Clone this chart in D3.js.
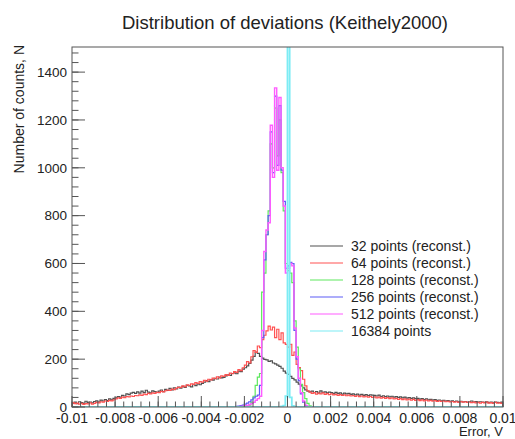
<!DOCTYPE html>
<html>
<head>
<meta charset="utf-8">
<script src="https://cdn.jsdelivr.net/npm/d3@7"></script>
<style>
  body { margin: 0; background: #fff; }
  svg { display: block; font-family: "Liberation Sans", Arial, Helvetica, sans-serif; }
</style>
</head>
<body>
<div id="grafica"></div>
<script>
// histogram binning: 200 bins of 0.0001 V from -0.01 to 0.01
var xMin = -0.01, xMax = 0.01, binWidth = 0.0001, nBins = 200;
var yMax = 1505;

var xTicks = [-0.01, -0.008, -0.006, -0.004, -0.002, 0, 0.002, 0.004, 0.006, 0.008, 0.01];
var xTickLabels = ["-0.01", "-0.008", "-0.006", "-0.004", "-0.002", "0", "0.002", "0.004", "0.006", "0.008", "0.01"];
var yTicks = [0, 200, 400, 600, 800, 1000, 1200, 1400];

var seriesNames = ["32 points (reconst.)", "64 points (reconst.)", "128 points (reconst.)",
                   "256 points (reconst.)", "512 points (reconst.)", "16384 points"];

// 32 points, all 200 bins
var counts32 = [
  16,20,14,22,18,15,24,19,21,17,
  23,26,21,29,25,31,27,34,30,36,
  38,44,41,49,46,55,52,58,61,57,
  63,58,66,60,70,62,59,67,64,61,
  66,71,64,74,69,78,72,80,76,83,
  79,86,82,91,88,84,95,89,97,93,
  99,104,110,106,115,112,120,117,125,122,
  124,130,134,132,140,143,139,150,148,158,
  164,172,182,196,212,230,224,212,204,199,
  197,191,193,184,180,175,170,162,150,142,
  136,128,120,113,104,96,88,80,72,66,
  63,66,60,64,58,67,61,63,59,62,
  60,56,61,57,59,54,58,55,57,53,
  55,51,54,50,53,49,52,48,51,50,
  49,46,50,44,47,43,46,42,45,41,
  43,40,42,38,41,37,39,36,38,35,
  36,33,35,31,34,30,32,29,31,28,
  29,26,28,25,27,24,26,23,25,22,
  24,21,23,20,22,25,21,23,20,22,
  21,19,22,18,20,17,21,19,18,20];

// 64 points, all 200 bins
var counts64 = [
  18,14,16,12,15,11,14,13,17,12,
  15,19,17,22,20,25,23,28,26,30,
  34,38,36,41,39,44,42,46,44,48,
  47,51,49,54,52,57,55,59,57,61,
  60,65,63,68,71,69,75,73,79,82,
  82,88,85,93,90,97,95,102,99,106,
  104,111,108,116,113,121,118,126,122,130,
  128,135,132,142,139,148,145,156,152,164,
  175,190,184,210,236,228,255,248,282,300,
  318,338,322,334,290,325,282,310,268,262,
  250,262,216,230,178,165,152,116,88,68,
  62,57,60,54,58,55,59,53,56,52,
  55,51,53,49,52,48,51,47,50,46,
  48,44,47,43,46,42,45,41,44,40,
  42,38,41,37,40,36,39,35,38,34,
  36,32,35,31,34,30,33,29,32,28,
  31,27,30,26,29,25,28,24,27,23,
  26,23,25,22,24,21,23,20,22,19,
  23,20,22,19,21,18,20,17,19,16,
  19,17,20,16,18,15,19,16,17,15];

// narrow ones: first non-empty bin + contents, all other bins are empty
var start128 = 82;
var counts128 = [8,20,45,90,125,140,480,560,720,820,1100,1000,1250,1050,1200,980,820,600,570,560,520,360,250,160,95,60,35,15,5];

var start256 = 76;
var counts256 = [3,4,6,8,12,16,22,30,38,45,50,90,290,615,720,800,1150,980,1300,1010,1260,990,860,580,590,605,600,320,200,110,55,20,6];

var start512 = 78;
var counts512 = [2,3,5,7,10,14,20,28,35,45,320,650,740,770,1178,960,1334,990,1294,1000,840,560,580,600,590,330,210,120,60,25,8,2];

var start16384 = 97;
var counts16384 = [2,6,45,16100,40,5,1];

// styles
var colors = ["#505050", "#ff5252", "#5ee85e", "#5c5cf5", "#ff5cff", "#7cecf4"];
var widths = [1.2, 1.2, 1.2, 1.2, 1.4, 1.8];

var W = 515, H = 439;
var margin = {top: 47, right: 12, bottom: 32, left: 72};
var w = W - margin.left - margin.right,
    h = H - margin.top - margin.bottom;

function fullBins(start, vals) {
  var b = [];
  for (var i = 0; i < nBins; i++) b.push(0);
  vals.forEach(function(v, k) { b[start + k] = v; });
  return b;
}

var series = [
  counts32, counts64,
  fullBins(start128, counts128),
  fullBins(start256, counts256),
  fullBins(start512, counts512),
  fullBins(start16384, counts16384)
];

var svg = d3.select("#grafica").append("svg")
    .attr("width", W)
    .attr("height", H);

var g = svg.append("g")
    .attr("transform", "translate(" + margin.left + "," + margin.top + ")");

var x = d3.scaleLinear().domain([xMin, xMax]).range([0, w]);
var y = d3.scaleLinear().domain([0, yMax]).range([h, 0]);

g.append("clipPath").attr("id", "frameclip")
  .append("rect").attr("x", 0).attr("y", 0).attr("width", w).attr("height", h);

// step outline like ROOT "HIST"
function steps(bins) {
  var pts = [[xMin, 0]];
  bins.forEach(function(v, i) {
    var lo = xMin + i * binWidth;
    pts.push([lo, v]);
    pts.push([lo + binWidth, v]);
  });
  pts.push([xMax, 0]);
  return pts;
}

var line = d3.line()
    .x(function(d) { return x(d[0]); })
    .y(function(d) { return y(d[1]); });

var plot = g.append("g").attr("clip-path", "url(#frameclip)");
series.forEach(function(bins, i) {
  plot.append("path")
      .datum(steps(bins))
      .attr("d", line)
      .attr("fill", "none")
      .attr("stroke", colors[i])
      .attr("stroke-width", widths[i]);
});

// frame
g.append("rect")
    .attr("width", w).attr("height", h)
    .attr("fill", "none")
    .attr("stroke", "#555")
    .attr("stroke-width", 1);

// x ticks (inside, pointing up), 5 subdivisions
var xMinor = d3.range(0, 51).map(function(k) { return xMin + k * 0.0004; });
g.selectAll(".xminor").data(xMinor).enter().append("line")
    .attr("x1", function(d) { return x(d); }).attr("x2", function(d) { return x(d); })
    .attr("y1", h).attr("y2", h - 5.5)
    .attr("stroke", "#555");
g.selectAll(".xmajor").data(xTicks).enter().append("line")
    .attr("x1", function(d) { return x(d); }).attr("x2", function(d) { return x(d); })
    .attr("y1", h).attr("y2", h - 11)
    .attr("stroke", "#555");
g.selectAll(".xlab").data(xTicks).enter().append("text")
    .attr("x", function(d) { return x(d); })
    .attr("y", h + 16)
    .attr("text-anchor", "middle")
    .style("font-size", "14px")
    .attr("fill", "#222")
    .text(function(d, i) { return xTickLabels[i]; });

// y ticks (inside, pointing right)
var yMinor = d3.range(0, 38).map(function(k) { return k * 40; });
g.selectAll(".yminor").data(yMinor).enter().append("line")
    .attr("x1", 0).attr("x2", 6.5)
    .attr("y1", function(d) { return y(d); }).attr("y2", function(d) { return y(d); })
    .attr("stroke", "#555");
g.selectAll(".ymajor").data(yTicks).enter().append("line")
    .attr("x1", 0).attr("x2", 13)
    .attr("y1", function(d) { return y(d); }).attr("y2", function(d) { return y(d); })
    .attr("stroke", "#555");
g.selectAll(".ylab").data(yTicks).enter().append("text")
    .attr("x", -5)
    .attr("y", function(d) { return y(d); })
    .attr("dy", "0.36em")
    .attr("text-anchor", "end")
    .style("font-size", "13.5px")
    .attr("fill", "#222")
    .text(function(d) { return d; });

// axis titles
svg.append("text")
    .attr("x", margin.left + w)
    .attr("y", 436)
    .attr("text-anchor", "end")
    .style("font-size", "13px")
    .attr("fill", "#222")
    .text("Error, V");

svg.append("text")
    .attr("transform", "translate(24," + (margin.top - 2) + ") rotate(-90)")
    .attr("text-anchor", "end")
    .style("font-size", "14px")
    .attr("fill", "#222")
    .text("Number of counts, N");

// title
svg.append("text")
    .attr("x", 285)
    .attr("y", 29)
    .attr("text-anchor", "middle")
    .style("font-size", "18.5px")
    .attr("fill", "#222")
    .text("Distribution of deviations (Keithely2000)");

// legend (no box)
var leg = svg.append("g").attr("transform", "translate(310,246)");
seriesNames.forEach(function(name, i) {
  leg.append("line")
      .attr("x1", 0).attr("x2", 33)
      .attr("y1", i * 17).attr("y2", i * 17)
      .attr("stroke", colors[i])
      .attr("stroke-width", 1.2);
  leg.append("text")
      .attr("x", 41)
      .attr("y", i * 17)
      .attr("dy", "0.36em")
      .style("font-size", "14px")
      .attr("fill", "#222")
      .text(name);
});
</script>
</body>
</html>
